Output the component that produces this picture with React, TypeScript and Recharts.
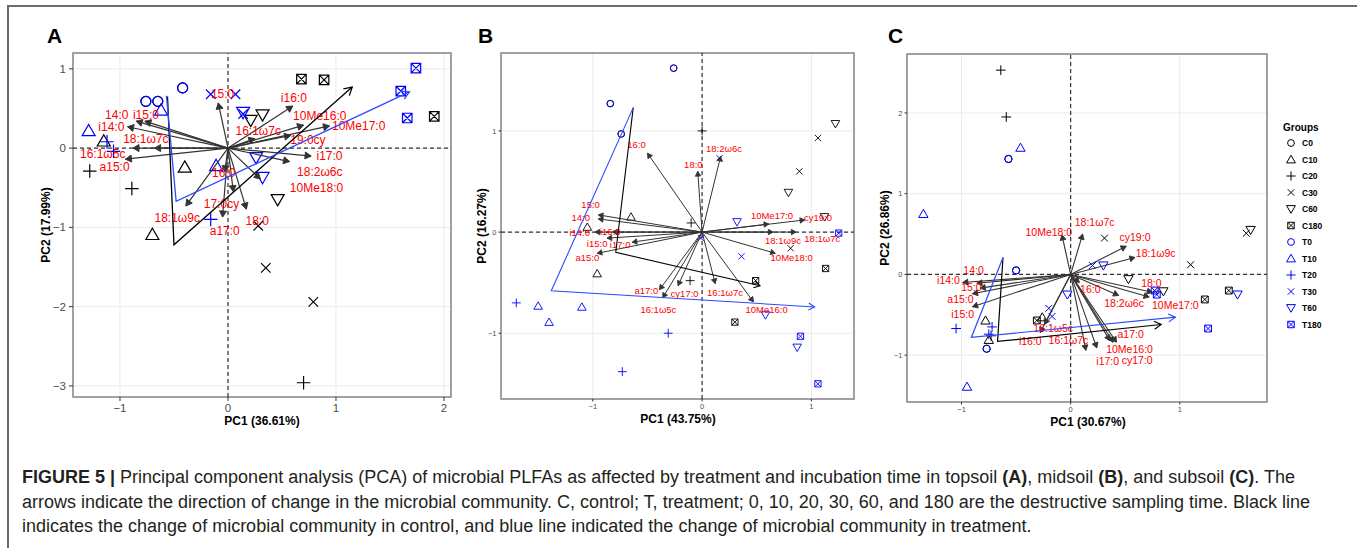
import React from 'react';
import { ScatterChart, Scatter, XAxis, YAxis, CartesianGrid, ReferenceLine, ReferenceArea } from 'recharts';

const FONT = '"Liberation Sans", Arial, Helvetica, sans-serif';

const GROUPS = ['C0', 'C10', 'C20', 'C30', 'C60', 'C180', 'T0', 'T10', 'T20', 'T30', 'T60', 'T180'];

type Score = [string, number, number];
type Loading = [string, number, number];
type XY = [number, number];

// ---------------- Panel A (topsoil) ----------------
const scoresA: Score[] = [
  ['C0', -0.76, 0.59], ['C0', -0.65, 0.59], ['C0', -0.42, 0.76],
  ['C10', -1.15, 0.09], ['C10', -0.40, -0.24], ['C10', -0.70, -1.09],
  ['C20', -1.28, -0.29], ['C20', -0.89, -0.51], ['C20', 0.70, -2.96],
  ['C30', 0.28, -0.98], ['C30', 0.35, -1.51], ['C30', 0.79, -1.94],
  ['C60', 0.32, 0.42], ['C60', 0.21, 0.35], ['C60', 0.46, -0.65],
  ['C180', 0.68, 0.87], ['C180', 0.89, 0.86], ['C180', 1.91, 0.40],
  ['T0', -0.76, 0.59], ['T0', -0.65, 0.59], ['T0', -0.42, 0.76],
  ['T10', -1.29, 0.22], ['T10', -0.62, 0.48], ['T10', -0.11, -0.22],
  ['T20', -1.12, 0.08], ['T20', -1.06, -0.04], ['T20', -0.16, -0.90],
  ['T30', -0.16, 0.68], ['T30', 0.07, 0.68], ['T30', 0.14, 0.43],
  ['T60', 0.14, 0.45], ['T60', 0.26, -0.12], ['T60', 0.32, -0.37],
  ['T180', 1.74, 1.01], ['T180', 1.60, 0.72], ['T180', 1.66, 0.38],
];
const loadingsA: Loading[] = [
  ['15:0', -0.09, 0.57], ['i16:0', 0.60, 0.53], ['10Me16:0', 0.70, 0.29], ['10Me17:0', 0.94, 0.28],
  ['16:1ω7c', 0.25, 0.12], ['19:0cy', 0.58, 0.16], ['i17:0', 0.77, -0.10], ['18:2ω6c', 0.57, -0.17],
  ['10Me18:0', 0.30, -0.39], ['18:0', 0.17, -0.77], ['a17:0', -0.05, -0.87], ['17:0cy', 0.05, -0.55],
  ['16:0', -0.03, -0.30], ['18:1ω9c', -0.39, -0.73], ['14:0', -0.85, 0.34], ['i15:0', -0.77, 0.34],
  ['i14:0', -0.93, 0.27], ['18:1ω7c', -0.68, 0.0], ['16:1ω5c', -0.88, 0.0], ['a15:0', -0.95, -0.14],
];
const labelPosA: XY[] = [
  [-0.05, 0.68], [0.61, 0.63], [0.85, 0.41], [1.21, 0.28],
  [0.28, 0.22], [0.74, 0.10], [0.94, -0.10], [0.85, -0.30],
  [0.82, -0.50], [0.27, -0.92], [-0.03, -1.05], [-0.06, -0.70],
  [-0.04, -0.31], [-0.47, -0.88], [-1.03, 0.415], [-0.76, 0.42],
  [-1.08, 0.265], [-0.76, 0.12], [-1.16, -0.07], [-1.05, -0.235],
];
const pathCtrlA: XY[] = [[-0.56, 0.65], [-0.50, -1.22], [1.15, 0.77]];
const pathTreatA: XY[] = [[-0.57, 0.66], [-0.48, -0.67], [1.68, 0.71]];

// ---------------- Panel B (midsoil) ----------------
const scoresB: Score[] = [
  ['C0', -0.26, 1.62], ['C0', -0.84, 1.27], ['C0', -0.74, 0.97],
  ['C10', -0.65, 0.15], ['C10', -1.05, 0.05], ['C10', -0.96, -0.41],
  ['C20', 0.0, 1.0], ['C20', -0.10, 0.09], ['C20', -0.11, -0.48],
  ['C30', 1.06, 0.93], ['C30', 0.89, 0.60], ['C30', 0.81, -0.16],
  ['C60', 1.22, 1.07], ['C60', 0.79, 0.39], ['C60', 1.12, 0.15],
  ['C180', 0.49, -0.48], ['C180', 1.13, -0.36], ['C180', 0.30, -0.89],
  ['T0', -0.26, 1.62], ['T0', -0.84, 1.27], ['T0', -0.74, 0.97],
  ['T10', -1.50, -0.73], ['T10', -1.10, -0.74], ['T10', -1.40, -0.89],
  ['T20', -1.70, -0.70], ['T20', -0.31, -1.00], ['T20', -0.73, -1.38],
  ['T30', 0.16, 0.73], ['T30', 0.36, -0.24], ['T30', -0.01, -0.06],
  ['T60', 0.32, 0.10], ['T60', 0.58, -0.82], ['T60', 0.87, -1.14],
  ['T180', 1.25, -0.01], ['T180', 0.90, -1.03], ['T180', 1.06, -1.50],
];
const loadingsB: Loading[] = [
  ['16:0', -0.50, 0.78], ['18:0', -0.04, 0.60], ['18:2ω6c', 0.17, 0.75], ['10Me17:0', 0.61, 0.08],
  ['cy19:0', 0.94, 0.12], ['18:1ω9c', 0.65, 0.0], ['18:1ω7c', 0.86, 0.0], ['10Me18:0', 0.67, -0.21],
  ['10Me16:0', 0.47, -0.69], ['16:1ω7c', 0.12, -0.51], ['cy17:0', -0.22, -0.53], ['a17:0', -0.39, -0.57],
  ['16:1ω5c', -0.36, -0.65], ['15:0', -0.95, 0.17], ['14:0', -0.95, 0.13], ['i14:0', -0.98, 0.0],
  ['i16:0', -0.82, 0.0], ['i15:0', -0.87, -0.06], ['i17:0', -0.64, -0.10], ['a15:0', -0.96, -0.21],
];
const labelPosB: XY[] = [
  [-0.60, 0.87], [-0.08, 0.67], [0.20, 0.83], [0.64, 0.16],
  [1.06, 0.14], [0.74, -0.08], [1.10, -0.06], [0.82, -0.25],
  [0.59, -0.77], [0.21, -0.60], [-0.16, -0.61], [-0.51, -0.58],
  [-0.40, -0.77], [-1.02, 0.27], [-1.11, 0.14], [-1.12, 0.0],
  [-0.84, 0.01], [-0.96, -0.11], [-0.75, -0.12], [-1.05, -0.25],
];
const pathCtrlB: XY[] = [[-0.63, 1.23], [-0.79, -0.20], [0.53, -0.53]];
const pathTreatB: XY[] = [[-0.63, 1.23], [-1.38, -0.58], [1.03, -0.74]];

// ---------------- Panel C (subsoil) ----------------
const scoresC: Score[] = [
  ['C0', -0.57, 1.43], ['C0', -0.50, 0.05], ['C0', -0.77, -0.92],
  ['C10', -0.78, -0.57], ['C10', -0.75, -0.81], ['C10', -0.26, -0.53],
  ['C20', -0.64, 2.53], ['C20', -0.59, 1.95], ['C20', -0.73, -0.76],
  ['C30', 0.31, 0.45], ['C30', 1.10, 0.12], ['C30', 1.61, 0.51],
  ['C60', 1.65, 0.55], ['C60', 0.53, -0.06], ['C60', 0.85, -0.21],
  ['C180', 1.45, -0.20], ['C180', 1.23, -0.31], ['C180', -0.31, -0.57],
  ['T0', -0.57, 1.43], ['T0', -0.50, 0.05], ['T0', -0.77, -0.92],
  ['T10', -0.46, 1.57], ['T10', -1.35, 0.75], ['T10', -0.95, -1.39],
  ['T20', -1.05, -0.67], ['T20', -0.72, -0.65], ['T20', -0.75, -0.74],
  ['T30', 0.20, 0.11], ['T30', -0.20, -0.42], ['T30', -0.17, -0.52],
  ['T60', 1.53, -0.25], ['T60', 0.30, 0.11], ['T60', -0.03, -0.25],
  ['T180', 1.26, -0.67], ['T180', 0.77, -0.20], ['T180', 0.79, -0.25],
];
const loadingsC: Loading[] = [
  ['10Me18:0', -0.08, 0.49], ['18:1ω7c', 0.11, 0.50], ['cy19:0', 0.51, 0.35], ['18:1ω9c', 0.59, 0.21],
  ['18:0', 0.75, -0.22], ['10Me17:0', 0.72, -0.28], ['18:2ω6c', 0.44, -0.26], ['16:0', 0.08, -0.10],
  ['a17:0', 0.42, -0.84], ['10Me16:0', 0.39, -0.84], ['cy17:0', 0.36, -0.82], ['i17:0', 0.24, -0.91],
  ['16:1ω7c', 0.14, -0.94], ['16:1ω5c', -0.24, -0.62], ['i16:0', -0.28, -0.72], ['14:0', -0.86, -0.11],
  ['i14:0', -0.99, -0.10], ['15:0', -0.83, -0.17], ['a15:0', -0.90, -0.24], ['i15:0', -0.90, -0.40],
];
const labelPosC: XY[] = [
  [-0.20, 0.53], [0.22, 0.65], [0.59, 0.46], [0.78, 0.26],
  [0.74, -0.10], [0.96, -0.38], [0.49, -0.35], [0.18, -0.18],
  [0.55, -0.74], [0.54, -0.92], [0.61, -1.06], [0.34, -1.07],
  [-0.02, -0.81], [-0.16, -0.66], [-0.37, -0.83], [-0.89, 0.06],
  [-1.12, -0.07], [-0.91, -0.15], [-1.01, -0.30], [-0.99, -0.49],
];
const pathCtrlC: XY[] = [[-0.62, 0.21], [-0.67, -0.83], [0.83, -0.62]];
const pathTreatC: XY[] = [[-0.62, 0.21], [-0.91, -0.78], [0.96, -0.53]];

// ---------------- helpers ----------------
const BLACK = '#000000';
const BLUE = '#0000FF';
const BLUE_LINE = '#2B4BFF';
const RED = '#FF0000';
const ARROW = '#333333';

function markerEl(g: string, cx: number, cy: number, s: number, sw: number) {
  const color = g.startsWith('T') ? BLUE : BLACK;
  const kind = g.slice(1);
  const common = { fill: 'none', stroke: color, strokeWidth: sw };
  if (kind === '0') return <circle cx={cx} cy={cy} r={s} {...common} />;
  if (kind === '10') {
    const d = `M${cx},${cy - 1.25 * s} L${cx + 1.3 * s},${cy + 1.0 * s} L${cx - 1.3 * s},${cy + 1.0 * s} Z`;
    return <path d={d} {...common} />;
  }
  if (kind === '60') {
    const d = `M${cx},${cy + 1.25 * s} L${cx + 1.3 * s},${cy - 1.0 * s} L${cx - 1.3 * s},${cy - 1.0 * s} Z`;
    return <path d={d} {...common} />;
  }
  if (kind === '20') {
    const h = 1.35 * s;
    return <path d={`M${cx - h},${cy} L${cx + h},${cy} M${cx},${cy - h} L${cx},${cy + h}`} {...common} />;
  }
  if (kind === '30') {
    const h = 0.95 * s;
    return <path d={`M${cx - h},${cy - h} L${cx + h},${cy + h} M${cx - h},${cy + h} L${cx + h},${cy - h}`} {...common} />;
  }
  const h = 0.95 * s;
  return (
    <path
      d={`M${cx - h},${cy - h} L${cx + h},${cy - h} L${cx + h},${cy + h} L${cx - h},${cy + h} Z M${cx - h},${cy - h} L${cx + h},${cy + h} M${cx - h},${cy + h} L${cx + h},${cy - h}`}
      {...common}
    />
  );
}

function headPath(x0: number, y0: number, x1: number, y1: number, L: number, open: boolean) {
  const a = Math.atan2(y1 - y0, x1 - x0);
  const ang = Math.PI / 6;
  const p2x = x1 - L * Math.cos(a - ang), p2y = y1 - L * Math.sin(a - ang);
  const p3x = x1 - L * Math.cos(a + ang), p3y = y1 - L * Math.sin(a + ang);
  return open
    ? `M${p2x},${p2y} L${x1},${y1} L${p3x},${p3y}`
    : `M${x1},${y1} L${p2x},${p2y} L${p3x},${p3y} Z`;
}

const fmt = (v: number) => (v < 0 ? '\u2212' + Math.abs(v) : String(v));

type PanelCfg = {
  box: [number, number, number, number];
  xd: [number, number];
  yd: [number, number];
  xt: number[];
  yt: number[];
  scores: Score[];
  loadings: Loading[];
  labels: XY[];
  ctrl: XY[];
  treat: XY[];
  tickFont: number;
  tickSize: number;
  tickMargin: number;
  labFont: number;
  s: number;
  sw: number;
  arrowW: number;
  headL: number;
  trajW: number;
  trajHead: number;
};

const Empty = () => <g />;

function Panel({ cfg }: { cfg: PanelCfg }) {
  const padL = 40, padT = 10, padR = 10, padB = 30;
  const [x0, y0, x1, y1] = cfg.box;
  const width = x1 - x0 + padL + padR;
  const height = y1 - y0 + padT + padB;
  const arrowData = cfg.loadings.flatMap(([, x, y]) => [{ x: 0, y: 0 }, { x, y }]);
  const labelData = cfg.loadings.map(([name], i) => ({ name, x: cfg.labels[i][0], y: cfg.labels[i][1] }));
  const ctrlData = cfg.ctrl.map(([x, y]) => ({ x, y }));
  const treatData = cfg.treat.map(([x, y]) => ({ x, y }));
  const tickStyle = { fill: '#4D4D4D', fontSize: cfg.tickFont, fontFamily: FONT };

  const drawArrows = (lp: any) => {
    const pts = lp.points || [];
    const els: any[] = [];
    for (let i = 0; i + 1 < pts.length; i += 2) {
      const a = pts[i], b = pts[i + 1];
      els.push(
        <g key={i}>
          <line x1={a.x} y1={a.y} x2={b.x} y2={b.y} stroke={ARROW} strokeWidth={cfg.arrowW} />
          <path d={headPath(a.x, a.y, b.x, b.y, cfg.headL, false)} fill={ARROW} stroke={ARROW} strokeWidth={cfg.arrowW * 0.8} strokeLinejoin="miter" />
        </g>
      );
    }
    return <g>{els}</g>;
  };
  const drawTraj = (color: string) => (lp: any) => {
    const pts = lp.points || [];
    if (pts.length < 2) return <g />;
    const d = pts.map((p: any, i: number) => `${i ? 'L' : 'M'}${p.x},${p.y}`).join(' ');
    const a = pts[pts.length - 2], b = pts[pts.length - 1];
    return (
      <g>
        <path d={d} fill="none" stroke={color} strokeWidth={cfg.trajW} strokeLinejoin="miter" />
        <path d={headPath(a.x, a.y, b.x, b.y, cfg.trajHead, true)} fill="none" stroke={color} strokeWidth={cfg.trajW} />
      </g>
    );
  };

  return (
    <div style={{ position: 'absolute', left: x0 - padL, top: y0 - padT }}>
      <ScatterChart width={width} height={height} margin={{ top: padT, right: padR, bottom: 0, left: 0 }}>
        <CartesianGrid stroke="#EBEBEB" strokeWidth={1} />
        <XAxis
          type="number" dataKey="x" domain={cfg.xd} ticks={cfg.xt} allowDataOverflow interval={0}
          height={padB} axisLine={false} tickSize={cfg.tickSize} tickMargin={cfg.tickMargin}
          tickLine={{ stroke: '#333333' }} tick={tickStyle} tickFormatter={fmt}
        />
        <YAxis
          type="number" dataKey="y" domain={cfg.yd} ticks={cfg.yt} allowDataOverflow interval={0}
          width={padL} axisLine={false} tickSize={cfg.tickSize} tickMargin={cfg.tickMargin}
          tickLine={{ stroke: '#333333' }} tick={tickStyle} tickFormatter={fmt}
        />
        <ReferenceLine x={0} stroke="#333333" strokeDasharray="4 3" strokeWidth={1.2} />
        <ReferenceLine y={0} stroke="#333333" strokeDasharray="4 3" strokeWidth={1.2} />
        {GROUPS.map((g) => (
          <Scatter
            key={g}
            data={cfg.scores.filter((r) => r[0] === g).map((r) => ({ x: r[1], y: r[2] }))}
            isAnimationActive={false}
            shape={(p: any) => markerEl(g, p.cx, p.cy, cfg.s, cfg.sw)}
          />
        ))}
        <Scatter data={arrowData} isAnimationActive={false} shape={Empty} line={drawArrows} />
        <Scatter
          data={labelData}
          isAnimationActive={false}
          shape={(p: any) => (
            <text x={p.cx} y={p.cy} textAnchor="middle" dominantBaseline="central" fill={RED} fontSize={cfg.labFont} fontFamily={FONT}>
              {p.payload.name}
            </text>
          )}
        />
        <Scatter data={ctrlData} isAnimationActive={false} shape={Empty} line={drawTraj(BLACK)} />
        <Scatter data={treatData} isAnimationActive={false} shape={Empty} line={drawTraj(BLUE_LINE)} />
        <ReferenceArea x1={cfg.xd[0]} x2={cfg.xd[1]} y1={cfg.yd[0]} y2={cfg.yd[1]} fill="none" fillOpacity={0} stroke="#858585" strokeWidth={1.5} />
      </ScatterChart>
    </div>
  );
}

const panelA: PanelCfg = {
  box: [73, 53, 451, 397], xd: [-1.435, 2.065], yd: [-3.14, 1.2], xt: [-1, 0, 1, 2], yt: [-3, -2, -1, 0, 1],
  scores: scoresA, loadings: loadingsA, labels: labelPosA, ctrl: pathCtrlA, treat: pathTreatA,
  tickFont: 11.5, tickSize: 4, tickMargin: 3, labFont: 12, s: 5, sw: 1.2, arrowW: 1.2, headL: 7, trajW: 1.3, trajHead: 9,
};
const panelB: PanelCfg = {
  box: [501, 53, 854, 399], xd: [-1.84, 1.39], yd: [-1.65, 1.77], xt: [-1, 0, 1], yt: [-1, 0, 1],
  scores: scoresB, loadings: loadingsB, labels: labelPosB, ctrl: pathCtrlB, treat: pathTreatB,
  tickFont: 7.5, tickSize: 2.5, tickMargin: 2, labFont: 9.5, s: 3.3, sw: 0.9, arrowW: 1, headL: 5.5, trajW: 1.1, trajHead: 7,
};
const panelC: PanelCfg = {
  box: [907, 54, 1267, 402], xd: [-1.5, 1.8], yd: [-1.58, 2.73], xt: [-1, 0, 1], yt: [-1, 0, 1, 2],
  scores: scoresC, loadings: loadingsC, labels: labelPosC, ctrl: pathCtrlC, treat: pathTreatC,
  tickFont: 7.5, tickSize: 2.5, tickMargin: 2, labFont: 10.5, s: 3.6, sw: 1, arrowW: 1.1, headL: 6, trajW: 1.2, trajHead: 8,
};

const axisTitles = [
  { t: 'PC1 (36.61%)', x: 262, y: 421, rot: false },
  { t: 'PC2 (17.99%)', x: 46, y: 225, rot: true },
  { t: 'PC1 (43.75%)', x: 678, y: 419, rot: false },
  { t: 'PC2 (16.27%)', x: 482, y: 226, rot: true },
  { t: 'PC1 (30.67%)', x: 1088, y: 422, rot: false },
  { t: 'PC2 (26.86%)', x: 885, y: 228, rot: true },
];
const panelLetters = [
  { t: 'A', x: 47, y: 43 },
  { t: 'B', x: 478, y: 43 },
  { t: 'C', x: 888, y: 43 },
];

export default function App() {
  return (
    <div style={{ position: 'absolute', left: 0, top: 0, width: 1357, height: 548, background: '#fff', overflow: 'hidden', fontFamily: FONT }}>
      <div style={{ position: 'absolute', left: 7, top: 5, width: 1400, height: 600, borderTop: '2px solid #6b6b6b', borderLeft: '2px solid #6b6b6b' }} />
      <Panel cfg={panelA} />
      <Panel cfg={panelB} />
      <Panel cfg={panelC} />
      <svg width={1357} height={548} style={{ position: 'absolute', left: 0, top: 0, pointerEvents: 'none' }}>
        {panelLetters.map((l) => (
          <text key={l.t} x={l.x} y={l.y} fontSize={21} fontWeight="bold" fontFamily={FONT} fill="#000">{l.t}</text>
        ))}
        {axisTitles.map((a) => (
          <text
            key={a.t}
            x={a.x} y={a.y}
            transform={a.rot ? `rotate(-90 ${a.x} ${a.y})` : undefined}
            textAnchor="middle" dominantBaseline="central"
            fontSize={12} fontWeight="bold" fontFamily={FONT} fill="#000"
          >
            {a.t}
          </text>
        ))}
        <text x={1283} y={127} fontSize={10} fontWeight="bold" fontFamily={FONT} dominantBaseline="central" fill="#000">Groups</text>
        {GROUPS.map((g, i) => {
          const cy = 143 + i * 16.5;
          return (
            <g key={g}>
              {markerEl(g, 1291, cy, 3.4, 1)}
              <text x={1302} y={cy} fontSize={8.5} fontWeight="bold" fontFamily={FONT} dominantBaseline="central" fill="#000">{g}</text>
            </g>
          );
        })}
      </svg>
      <div style={{ position: 'absolute', left: 22, top: 465, fontSize: 18, lineHeight: '24.5px', color: '#231F20', whiteSpace: 'nowrap', fontFamily: FONT }}>
        <div>
          <b>FIGURE 5 |</b> Principal component analysis (PCA) of microbial PLFAs as affected by treatment and incubation time in topsoil <b>(A)</b>, midsoil <b>(B)</b>, and subsoil <b>(C)</b>. The
        </div>
        <div>arrows indicate the direction of change in the microbial community. C, control; T, treatment; 0, 10, 20, 30, 60, and 180 are the destructive sampling time. Black line</div>
        <div>indicates the change of microbial community in control, and blue line indicated the change of microbial community in treatment.</div>
      </div>
    </div>
  );
}
